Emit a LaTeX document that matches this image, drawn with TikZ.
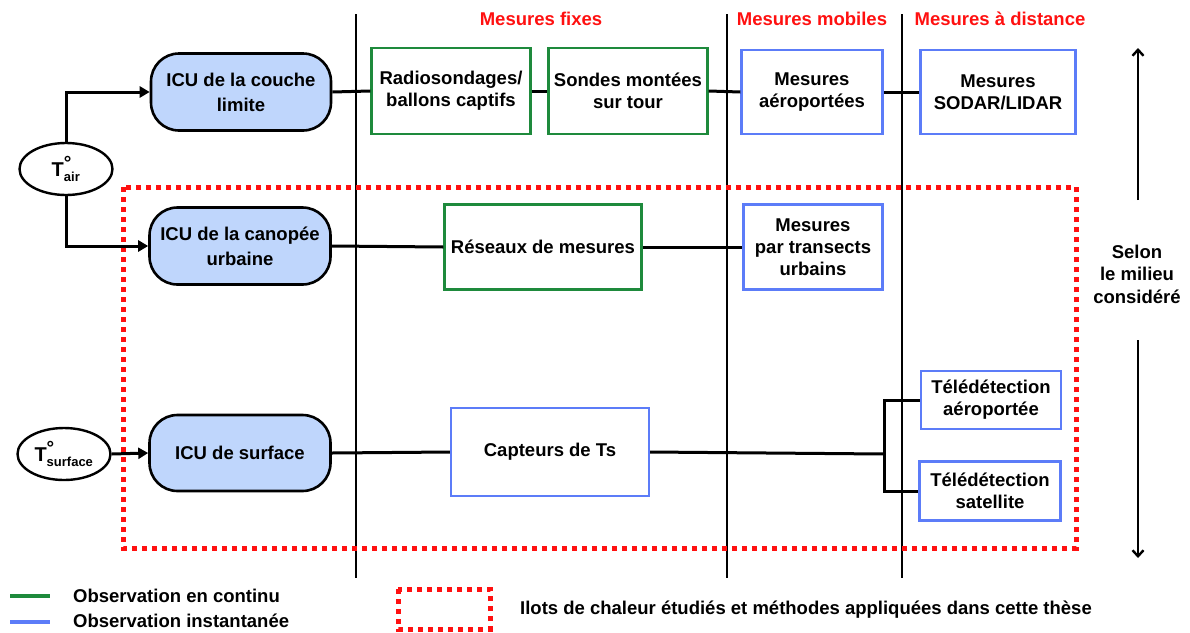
\documentclass[tikz,border=0pt]{standalone}
\usepackage{fontspec}
\setmainfont{Liberation Sans}
\usetikzlibrary{arrows.meta,shapes.geometric}
\definecolor{gbox}{HTML}{1E8A3C}
\definecolor{bbox}{HTML}{5C7CF8}
\definecolor{icufill}{HTML}{BFD6FC}
\definecolor{rred}{HTML}{FF1010}
\newcommand{\tdeg}[1]{T$^{\hbox{\fontsize{19}{19}\selectfont °}}_{\hbox{\fontsize{13}{13}\selectfont #1}}$}
\begin{document}
\begin{tikzpicture}[x=1pt,y=-1pt,
  every node/.style={font=\fontsize{18.5}{22}\selectfont\bfseries, align=center, inner sep=0pt},
  icu/.style={draw, line width=2.6pt, fill=icufill, rounded corners=28pt, font=\fontsize{18.5}{25}\selectfont\bfseries},
  gb/.style={draw=gbox, line width=2.4pt},
  bb/.style={draw=bbox, line width=2.4pt},
  ell/.style={draw, ellipse, line width=2.4pt, font=\fontsize{20}{22}\selectfont\bfseries},
  conn/.style={line width=3pt},
  arr/.style={line width=3pt, -{Triangle[length=10pt,width=11pt]}},
  vline/.style={line width=1.6pt},
  hdr/.style={text=rred, font=\fontsize{18.5}{22}\selectfont\bfseries},
  lgd/.style={anchor=west, font=\fontsize{18.5}{22}\selectfont\bfseries},
  reddot/.style={draw=rred, line width=5pt, dash pattern=on 5pt off 5pt}]
\useasboundingbox (0,0) rectangle (1190,632);
% frame lines
\draw[vline] (356,14) -- (356,578);
\draw[vline] (727,14) -- (727,578);
\draw[vline] (902,14) -- (902,578);
\node[hdr] (h1) at (541,19) {Mesures fixes};
\node[hdr] (h2) at (812,19) {Mesures mobiles};
\node[hdr] (h3) at (1000,19) {Mesures à distance};
% red dotted area
\draw[reddot] (123,187) rectangle (1076,548);
% ellipses
\node[ell, minimum width=93pt, minimum height=52pt] (tair) at (66,169) {\tdeg{air}};
\node[ell, minimum width=93pt, minimum height=52pt] (tsurf) at (64,454) {\tdeg{surface}};
% ICU boxes
\node[icu, minimum width=180pt, minimum height=77pt] (icu1) at (241,92) {ICU de la couche\\limite};
\node[icu, minimum width=181pt, minimum height=77pt] (icu2) at (240,246) {ICU de la canopée\\urbaine};
\node[icu, minimum width=181pt, minimum height=76pt] (icu3) at (240,453) {ICU de surface};
% row 1
\node[gb, minimum width=159pt, minimum height=86pt] (radio) at (451,91) {Radiosondages/\\ballons captifs};
\node[gb, minimum width=159pt, minimum height=86pt] (sonde) at (628,91) {Sondes montées\\sur tour};
\node[bb, minimum width=141pt, minimum height=84pt] (aero) at (812,92) {Mesures\\aéroportées};
\node[bb, minimum width=155pt, minimum height=84pt] (sodar) at (998,92) {Mesures\\SODAR/LIDAR};
% row 2
\node[gb, minimum width=197pt, minimum height=85pt] (reseau) at (543,247) {Réseaux de mesures};
\node[bb, minimum width=139pt, minimum height=85pt] (trans) at (813,247) {Mesures\\par transects\\urbains};
% row 3
\node[bb, minimum width=198pt, minimum height=88pt] (capt) at (550,452) {Capteurs de Ts};
\node[bb, minimum width=140pt, minimum height=58pt] (tele1) at (991,400) {Télédétection\\aéroportée};
\node[bb, minimum width=141pt, minimum height=59pt] (tele2) at (990,491) {Télédétection\\satellite};
% connectors
\draw[arr] (tair.north) |- (icu1.west);
\draw[arr] (tair.south) |- (icu2.west);
\draw[arr] (tsurf.east) -- (icu3.west);
\draw[conn] (icu1.east) -- (radio.west);
\draw[conn] (radio.east) -- (sonde.west);
\draw[conn] (sonde.east) -- (aero.west);
\draw[conn] (aero.east) -- (sodar.west);
\draw[conn] (icu2.east) -- (reseau.west);
\draw[conn] (reseau.east) -- (trans.west);
\draw[conn] (icu3.east) -- (capt.west);
\coordinate (j) at (884,454);
\draw[conn] (capt.east) -- (j);
\draw[conn] (tele1.west) -| (j) |- (tele2.west);
% right side
\node[font=\fontsize{18.5}{22.5}\selectfont\bfseries] (selon) at (1137,274) {Selon\\le milieu\\considéré};
\coordinate (atop) at (1138,48);
\coordinate (abot) at (1138,558);
\coordinate (as1) at (1138,200);
\coordinate (as2) at (1138,340);
\draw[line width=2.4pt, -{Straight Barb[length=6pt,width=11pt]}] (as1) -- (atop);
\draw[line width=2.4pt, -{Straight Barb[length=6pt,width=11pt]}] (as2) -- (abot);
% legend
\coordinate (g1) at (10,596); \coordinate (g2) at (50,596);
\coordinate (b1) at (10,622); \coordinate (b2) at (50,622);
\draw[draw=gbox, line width=3.5pt] (g1) -- (g2);
\draw[draw=bbox, line width=3.5pt] (b1) -- (b2);
\node[lgd] (lg) at (73,596) {Observation en continu};
\node[lgd] (lb) at (73,621) {Observation instantanée};
\draw[reddot] (398,589) rectangle (490,629);
\node[lgd] (lr) at (520,610) {Ilots de chaleur étudiés et méthodes appliquées dans cette thèse};
\end{tikzpicture}
\end{document}
